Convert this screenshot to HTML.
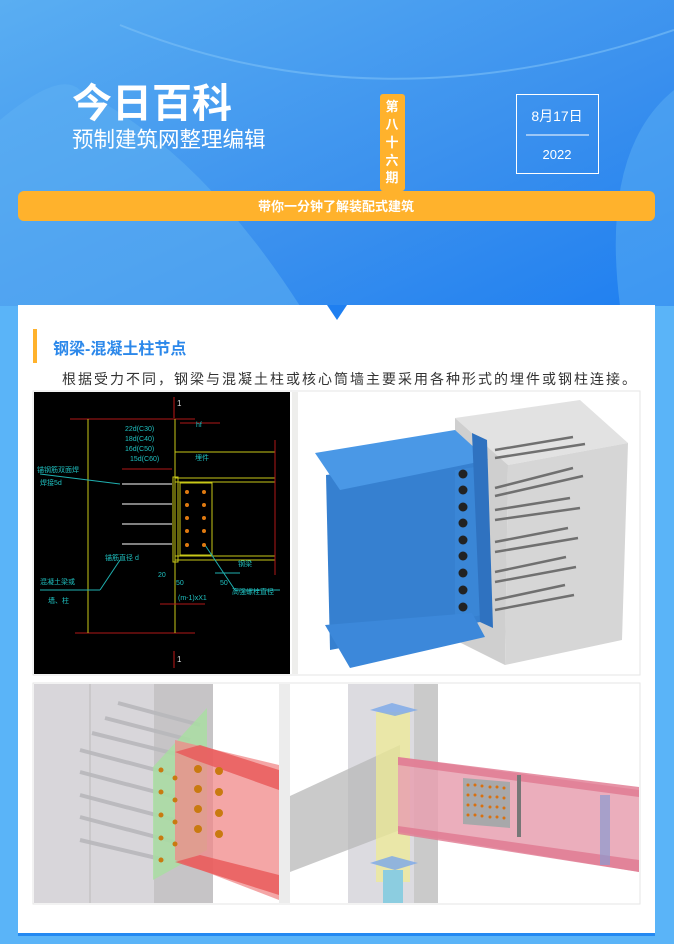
<!DOCTYPE html>
<html><head><meta charset="utf-8"><style>
html,body{margin:0;padding:0;background:#5ab4f8;}
svg{display:block;font-family:"Liberation Sans","Noto Sans CJK SC",sans-serif;}
</style></head><body>
<svg width="674" height="944" viewBox="0 0 674 944" xmlns="http://www.w3.org/2000/svg">
<defs>
<linearGradient id="hg" x1="0" y1="0" x2="1" y2="1">
<stop offset="0" stop-color="#5aaef2"/><stop offset="0.6" stop-color="#3a90ee"/><stop offset="1" stop-color="#1f7ff0"/>
</linearGradient>
</defs>
<rect width="674" height="944" fill="#5ab4f8"/>
<!-- header -->
<rect x="0" y="0" width="674" height="306" fill="url(#hg)"/>
<path d="M0 120 Q60 70 80 90 Q200 150 300 306 L0 306 Z" fill="#5eb0f2" opacity="0.55"/>
<path d="M120 25 Q380 130 674 30" fill="none" stroke="#7cc0f6" stroke-width="2" opacity="0.6"/>
<path d="M674 90 Q600 150 620 306 L674 306 Z" fill="#5cb0f4" opacity="0.5"/>
<text x="72" y="117" font-size="40" font-weight="bold" fill="#fff">今日百科</text>
<text x="72" y="147" font-size="21.5" fill="#fff">预制建筑网整理编辑</text>
<rect x="380" y="94" width="25" height="97" rx="3" fill="#ffb22c"/>
<g font-size="13" font-weight="bold" fill="#fff" text-anchor="middle">
<text x="392" y="111">第</text><text x="392" y="129">八</text><text x="392" y="147">十</text><text x="392" y="165">六</text><text x="392" y="182">期</text>
</g>
<rect x="516.5" y="94.5" width="82" height="79" fill="none" stroke="#fff" stroke-width="1"/>
<text x="557" y="121" font-size="14" fill="#fff" text-anchor="middle">8月17日</text>
<line x1="526" y1="135" x2="589" y2="135" stroke="#fff" stroke-width="1"/>
<text x="557" y="159" font-size="13" fill="#fff" text-anchor="middle">2022</text>
<rect x="18" y="191" width="637" height="30" rx="6" fill="#ffb22c"/>
<text x="336" y="211" font-size="13" font-weight="bold" fill="#fff" text-anchor="middle">带你一分钟了解装配式建筑</text>
<!-- card -->
<rect x="18" y="305" width="637" height="629" fill="#fff"/>
<rect x="18" y="933" width="637" height="3" fill="#2389f2"/>
<polygon points="327,305 347,305 337,320" fill="#1f7ff0"/>
<rect x="33" y="329" width="4" height="34" fill="#ffb22c"/>
<text x="53" y="354" font-size="16" font-weight="bold" fill="#2c88ea">钢梁-混凝土柱节点</text>
<text x="62" y="384" font-size="14" fill="#333" letter-spacing="2">根据受力不同，钢梁与混凝土柱或核心筒墙主要采用各种形式的埋件或钢柱连接。</text>
<!-- CAD panel -->
<rect x="33" y="391" width="607" height="284" fill="none" stroke="#e6e6e6"/>
<rect x="34" y="392" width="256" height="282" fill="#000"/>
<g stroke-width="1" fill="none">
<line x1="70" y1="419" x2="195" y2="419" stroke="#b01818"/>
<line x1="75" y1="633" x2="195" y2="633" stroke="#b01818"/>
<line x1="174" y1="397" x2="174" y2="418" stroke="#c01818"/>
<line x1="174" y1="651" x2="174" y2="668" stroke="#c01818"/>
<line x1="88" y1="419" x2="88" y2="633" stroke="#c8c818"/>
<line x1="175" y1="419" x2="175" y2="633" stroke="#c8c818"/>
<polyline points="175,419 175,452 275,452" stroke="#c8c818"/>
<line x1="175" y1="478" x2="275" y2="478" stroke="#c8c818"/>
<line x1="175" y1="482" x2="275" y2="482" stroke="#c8c818"/>
<line x1="175" y1="556" x2="275" y2="556" stroke="#c8c818"/>
<line x1="175" y1="560" x2="275" y2="560" stroke="#c8c818"/>
<rect x="173" y="477" width="5" height="85" stroke="#c8c818"/>
<rect x="180" y="483" width="32" height="72" stroke="#c8c818"/>
<line x1="275" y1="440" x2="275" y2="575" stroke="#b01818"/>
<line x1="122" y1="484" x2="172" y2="484" stroke="#aaa" stroke-width="1.5"/>
<line x1="122" y1="504" x2="172" y2="504" stroke="#aaa" stroke-width="1.5"/>
<line x1="122" y1="524" x2="172" y2="524" stroke="#aaa" stroke-width="1.5"/>
<line x1="122" y1="544" x2="172" y2="544" stroke="#aaa" stroke-width="1.5"/>
<line x1="122" y1="469" x2="172" y2="469" stroke="#b01818"/>
<line x1="180" y1="423" x2="220" y2="423" stroke="#b01818"/>
<line x1="40" y1="474" x2="120" y2="484" stroke="#1fb0b0"/>
<line x1="40" y1="590" x2="100" y2="590" stroke="#1fb0b0"/>
<line x1="100" y1="590" x2="120" y2="560" stroke="#1fb0b0"/>
<line x1="235" y1="590" x2="280" y2="590" stroke="#1fb0b0"/>
<line x1="235" y1="590" x2="205" y2="545" stroke="#1fb0b0"/>
<line x1="215" y1="573" x2="240" y2="573" stroke="#1fb0b0"/>
<line x1="160" y1="604" x2="205" y2="604" stroke="#b01818"/>
</g>
<g fill="#e07a10">
<circle cx="187" cy="492" r="2"/><circle cx="204" cy="492" r="2"/>
<circle cx="187" cy="505" r="2"/><circle cx="204" cy="505" r="2"/>
<circle cx="187" cy="518" r="2"/><circle cx="204" cy="518" r="2"/>
<circle cx="187" cy="531" r="2"/><circle cx="204" cy="531" r="2"/>
<circle cx="187" cy="545" r="2"/><circle cx="204" cy="545" r="2"/>
</g>
<g font-size="7" fill="#1fc0c0">
<text x="125" y="431">22d(C30)</text><text x="125" y="441">18d(C40)</text><text x="125" y="451">16d(C50)</text><text x="130" y="461">15d(C60)</text>
<text x="37" y="472">锚钢筋双面焊</text><text x="40" y="485">焊接5d</text>
<text x="195" y="460">埋件</text><text x="196" y="427" fill="#1fc0c0">hf</text>
<text x="105" y="560">锚筋直径 d</text><text x="40" y="584">混凝土梁或</text><text x="48" y="603">墙、柱</text>
<text x="158" y="577">20</text><text x="176" y="585">50</text><text x="220" y="585">50</text><text x="178" y="600">(m-1)xX1</text>
<text x="238" y="566">钢梁</text><text x="232" y="594">高强螺栓直径</text>
</g>
<g font-size="8" fill="#ddd"><text x="177" y="406">1</text><text x="177" y="662">1</text></g>
<!-- 3D top right -->
<rect x="292" y="392" width="347" height="282" fill="#fff"/>
<rect x="292" y="392" width="6" height="282" fill="#eeeeec"/>
<polygon points="455,418 580,400 628,443 508,465" fill="#e2e2e2"/>
<polygon points="455,418 508,465 505,665 455,640" fill="#cfcfcf"/>
<polygon points="508,465 628,443 622,640 505,665" fill="#d6d6d6"/>
<g stroke="#707070" stroke-width="2.5">
<line x1="495" y1="450" x2="573" y2="437"/><line x1="495" y1="458" x2="585" y2="444"/>
<line x1="495" y1="488" x2="573" y2="468"/><line x1="495" y1="496" x2="583" y2="476"/>
<line x1="495" y1="510" x2="570" y2="498"/><line x1="495" y1="520" x2="580" y2="508"/>
<line x1="495" y1="542" x2="568" y2="528"/><line x1="495" y1="552" x2="578" y2="538"/>
<line x1="495" y1="572" x2="566" y2="557"/><line x1="495" y1="582" x2="576" y2="567"/>
<line x1="495" y1="600" x2="565" y2="585"/><line x1="495" y1="610" x2="574" y2="595"/>
</g>
<polygon points="326,475 480,455 480,622 330,650" fill="#3680d0"/>
<polygon points="455,470 482,466 482,615 455,620" fill="#3a86d6"/>
<polygon points="315,453 455,430 488,460 340,490" fill="#4a98e6"/>
<polygon points="325,625 472,613 485,637 350,668" fill="#3c88da"/>
<polygon points="472,433 487,440 493,628 480,622" fill="#2f72c0"/>
<g fill="#222">
<circle cx="463" cy="474" r="4.5"/><circle cx="463" cy="490" r="4.5"/><circle cx="463" cy="507" r="4.5"/><circle cx="463" cy="523" r="4.5"/><circle cx="463" cy="540" r="4.5"/><circle cx="463" cy="556" r="4.5"/><circle cx="463" cy="573" r="4.5"/><circle cx="463" cy="590" r="4.5"/><circle cx="463" cy="607" r="4.5"/>
</g>
<!-- bottom left -->
<rect x="33" y="683" width="607" height="221" fill="none" stroke="#e6e6e6"/>
<rect x="34" y="684" width="245" height="219" fill="#fff"/>
<rect x="34" y="684" width="120" height="219" fill="#d8d6da"/>
<rect x="154" y="684" width="59" height="219" fill="#c6c4c6"/>
<rect x="279" y="684" width="11" height="219" fill="#ececec"/>
<line x1="90" y1="684" x2="90" y2="903" stroke="#bbb"/>
<g stroke="#b8b8bc" stroke-width="4" opacity="0.9">
<line x1="118" y1="703" x2="200" y2="725"/><line x1="105" y1="718" x2="190" y2="740"/><line x1="92" y1="733" x2="180" y2="755"/>
<line x1="80" y1="750" x2="175" y2="775"/><line x1="80" y1="772" x2="175" y2="797"/><line x1="80" y1="795" x2="175" y2="820"/>
<line x1="80" y1="817" x2="175" y2="842"/><line x1="80" y1="840" x2="165" y2="860"/>
</g>
<polygon points="153,767 207,708 207,850 153,880" fill="#a8e0a0" opacity="0.8"/>
<polygon points="175,740 279,765 279,900 175,860" fill="#f08888" opacity="0.75"/>
<polygon points="175,752 200,745 279,770 279,790 195,760" fill="#e85858" opacity="0.8"/>
<polygon points="175,862 200,855 279,875 279,895" fill="#e85858" opacity="0.8"/>
<g fill="#c97a10">
<circle cx="198" cy="769" r="4"/><circle cx="219" cy="771" r="4"/><circle cx="198" cy="789" r="4"/><circle cx="219" cy="792" r="4"/>
<circle cx="198" cy="809" r="4"/><circle cx="219" cy="813" r="4"/><circle cx="198" cy="829" r="4"/><circle cx="219" cy="834" r="4"/>
<circle cx="161" cy="770" r="2.5"/><circle cx="161" cy="792" r="2.5"/><circle cx="161" cy="815" r="2.5"/><circle cx="161" cy="838" r="2.5"/><circle cx="161" cy="860" r="2.5"/>
<circle cx="175" cy="778" r="2.5"/><circle cx="175" cy="800" r="2.5"/><circle cx="175" cy="822" r="2.5"/><circle cx="175" cy="844" r="2.5"/>
</g>
<!-- bottom right -->
<rect x="290" y="684" width="349" height="219" fill="#fff"/>
<rect x="348" y="684" width="66" height="219" fill="#dcdbe0"/>
<rect x="414" y="684" width="24" height="219" fill="#cacaca"/>
<polygon points="290,796 400,745 400,830 290,872" fill="#b8b8b8" opacity="0.75"/>
<rect x="376" y="712" width="34" height="170" fill="#f0ec90" opacity="0.7"/>
<rect x="383" y="870" width="20" height="33" fill="#8ccde0"/>
<polygon points="370,710 392,703 418,710 395,716" fill="#7aa8e8" opacity="0.8"/>
<polygon points="370,863 392,856 418,863 395,870" fill="#7aa8e8" opacity="0.8"/>
<polygon points="398,757 639,790 639,872 398,832" fill="#e8a0b0" opacity="0.85"/>
<polygon points="398,757 639,787 639,797 398,765" fill="#e07890" opacity="0.8"/>
<polygon points="398,826 639,860 639,872 398,834" fill="#e07890" opacity="0.8"/>
<rect x="600" y="795" width="10" height="70" fill="#8a9ad0" opacity="0.7"/>
<polygon points="463,778 510,782 510,828 463,824" fill="#a8a8aa"/>
<g fill="#d87010">
<circle cx="468" cy="785" r="1.5"/><circle cx="475" cy="785" r="1.5"/><circle cx="482" cy="786" r="1.5"/><circle cx="490" cy="787" r="1.5"/><circle cx="497" cy="787" r="1.5"/><circle cx="504" cy="788" r="1.5"/>
<circle cx="468" cy="795" r="1.5"/><circle cx="475" cy="795" r="1.5"/><circle cx="482" cy="796" r="1.5"/><circle cx="490" cy="797" r="1.5"/><circle cx="497" cy="797" r="1.5"/><circle cx="504" cy="798" r="1.5"/>
<circle cx="468" cy="805" r="1.5"/><circle cx="475" cy="805" r="1.5"/><circle cx="482" cy="806" r="1.5"/><circle cx="490" cy="807" r="1.5"/><circle cx="497" cy="807" r="1.5"/><circle cx="504" cy="808" r="1.5"/>
<circle cx="468" cy="815" r="1.5"/><circle cx="475" cy="815" r="1.5"/><circle cx="482" cy="816" r="1.5"/><circle cx="490" cy="817" r="1.5"/><circle cx="497" cy="817" r="1.5"/><circle cx="504" cy="818" r="1.5"/>
</g>
<rect x="517" y="775" width="4" height="62" fill="#777"/>
</svg>
</body></html>
